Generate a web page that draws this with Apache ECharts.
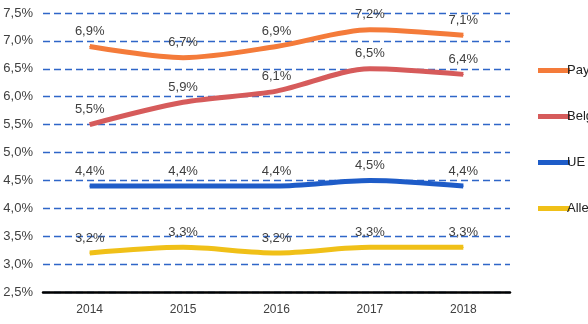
<!DOCTYPE html>
<html><head><meta charset="utf-8">
<script src="https://cdn.jsdelivr.net/npm/echarts@6/dist/echarts.min.js"></script>
<style>html,body{margin:0;padding:0;background:#fff}#c{width:588px;height:324px}</style>
</head><body><div id="c"></div>
<script>
const years = ['2014','2015','2016','2017','2018'];
const paysBas = [6.9, 6.7, 6.9, 7.2, 7.1];
const belgique = [5.5, 5.9, 6.1, 6.5, 6.4];
const ue = [4.4, 4.4, 4.4, 4.5, 4.4];
const allemagne = [3.2, 3.3, 3.2, 3.3, 3.3];
const names = ['Pays-Bas','Belgique','UE','Allemagne'];
const colors = ['#F47B3A','#D65B5B','#1E5CC8','#F0C018'];
const fmt = v => v.toFixed(1).replace('.', ',') + '%';
const font = 'Liberation Sans, Arial, sans-serif';
function mk(name, data, color){
  return {name, type:'line', data, smooth:0.3, showSymbol:true, symbol:'circle', symbolSize:1,
    lineStyle:{width:5, color}, itemStyle:{color},
    label:{show:true, position:'top', distance:8, formatter:p=>fmt(p.value), color:'#404040', fontSize:13, fontFamily:font},
    emphasis:{disabled:true}};
}
const chart = echarts.init(document.getElementById('c'));
chart.setOption({
  animation:false,
  textStyle:{fontFamily:font},
  grid:{left:43, right:78, top:13, bottom:32, containLabel:false},
  legend:{orient:'vertical', left:533, top:59, itemGap:33, itemWidth:32, itemHeight:5,
    icon:'rect', textStyle:{color:'#222', fontSize:13, fontFamily:font, padding:[0,0,0,-8]},
    data:names},
  xAxis:{type:'category', data:years, boundaryGap:true,
    axisLine:{lineStyle:{color:'#000', width:2.5}}, axisTick:{show:false},
    axisLabel:{color:'#404040', fontSize:12, margin:12, fontFamily:font}},
  yAxis:{type:'value', min:2.5, max:7.5, interval:0.5,
    axisLine:{show:false}, axisTick:{show:false},
    axisLabel:{formatter:v=>fmt(v), color:'#404040', fontSize:13, margin:10, fontFamily:font},
    splitLine:{lineStyle:{color:'#2F66C8', type:[7,4], width:1.3}}},
  series:[mk(names[0], paysBas, colors[0]), mk(names[1], belgique, colors[1]), mk(names[2], ue, colors[2]), mk(names[3], allemagne, colors[3])]
});
</script></body></html>
